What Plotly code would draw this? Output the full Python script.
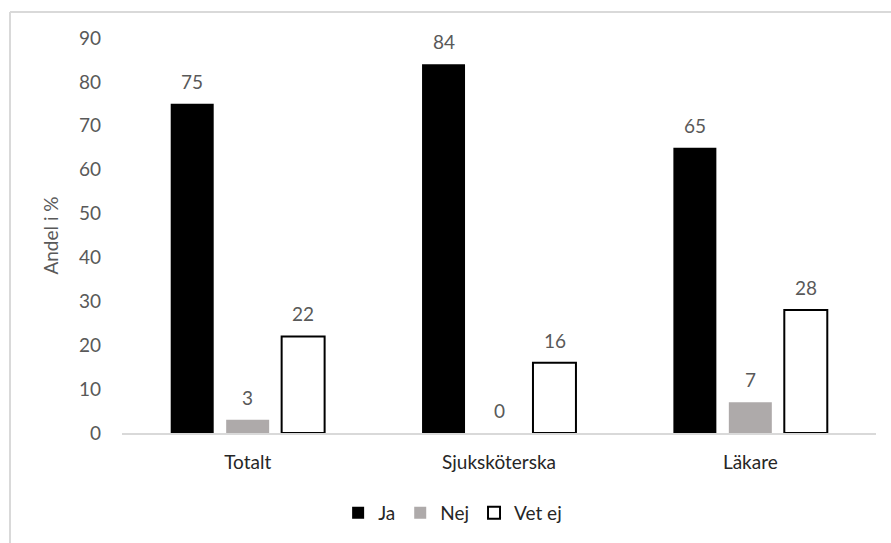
import plotly.graph_objects as go

# Survey answers, share in percent per professional group
categories = ["Totalt", "Sjuksköterska", "Läkare"]
ja = [75, 84, 65]
nej = [3, 0, 7]
vet_ej = [22, 16, 28]

W, H = 891, 543
L, R, T, B = 122, 15, 38, 110
pw, ph = W - L - R, H - T - B

FONT = "Lato"
TICK_GREY = "#595959"
LABEL_GREY = "#595959"

series = [
    ("Ja", ja, "#000000", "#000000", 0),
    ("Nej", nej, "#aeaaaa", "#aeaaaa", 0),
    ("Vet ej", vet_ej, "#ffffff", "#000000", 2),
]

fig = go.Figure()
for name, vals, fill, edge, lw in series:
    fig.add_trace(go.Bar(
        x=categories, y=vals, name=name,
        marker=dict(color=fill, line=dict(color=edge, width=lw)),
        hoverinfo="x+y+name",
    ))

# value labels above each bar, placed at the bar's own value
n = len(series)
for i, (name, vals, *_rest) in enumerate(series):
    for j, v in enumerate(vals):
        fig.add_annotation(
            x=categories[j], y=v, text=str(v), showarrow=False,
            xref="x", yref="y", yanchor="bottom", yshift=9,
            xshift=(i - (n - 1) / 2) * 55.5,
            font=dict(family=FONT, size=19, color=LABEL_GREY),
        )

# light frame around the chart area (top and left edges)
x0 = (10 - L) / pw
y0 = 1 + (T - 12) / ph
fig.add_shape(type="line", xref="paper", yref="paper",
              x0=x0, x1=(W + 5 - L) / pw, y0=y0, y1=y0,
              line=dict(color="#d9d9d9", width=2))
fig.add_shape(type="line", xref="paper", yref="paper",
              x0=x0, x1=x0, y0=y0, y1=-(B + 5) / ph,
              line=dict(color="#d9d9d9", width=2))

fig.update_layout(
    width=W, height=H,
    margin=dict(l=L, r=R, t=T, b=B),
    paper_bgcolor="white", plot_bgcolor="white",
    barmode="group", bargap=0.338, bargroupgap=0.225,
    font=dict(family=FONT, size=19, color="#404040"),
    showlegend=True,
    legend=dict(
        orientation="h", xref="container", yref="container",
        x=0.508, y=1 - 513 / H, xanchor="center", yanchor="middle",
        font=dict(family=FONT, size=19, color="#262626"),
        itemwidth=30, traceorder="normal",
    ),
    xaxis=dict(
        showline=True, linecolor="#d9d9d9", linewidth=1.5,
        showgrid=False, ticks="", ticklabelstandoff=11,
        tickfont=dict(family=FONT, size=19, color="#262626"),
    ),
    yaxis=dict(
        range=[0, 90], dtick=10, showgrid=False, zeroline=False,
        showline=False, ticks="", ticklabelstandoff=20,
        tickfont=dict(family=FONT, size=19, color=TICK_GREY),
        title=dict(text="Andel i %", standoff=15,
                   font=dict(family=FONT, size=19, color=TICK_GREY)),
    ),
)

fig.write_html("out.html")
